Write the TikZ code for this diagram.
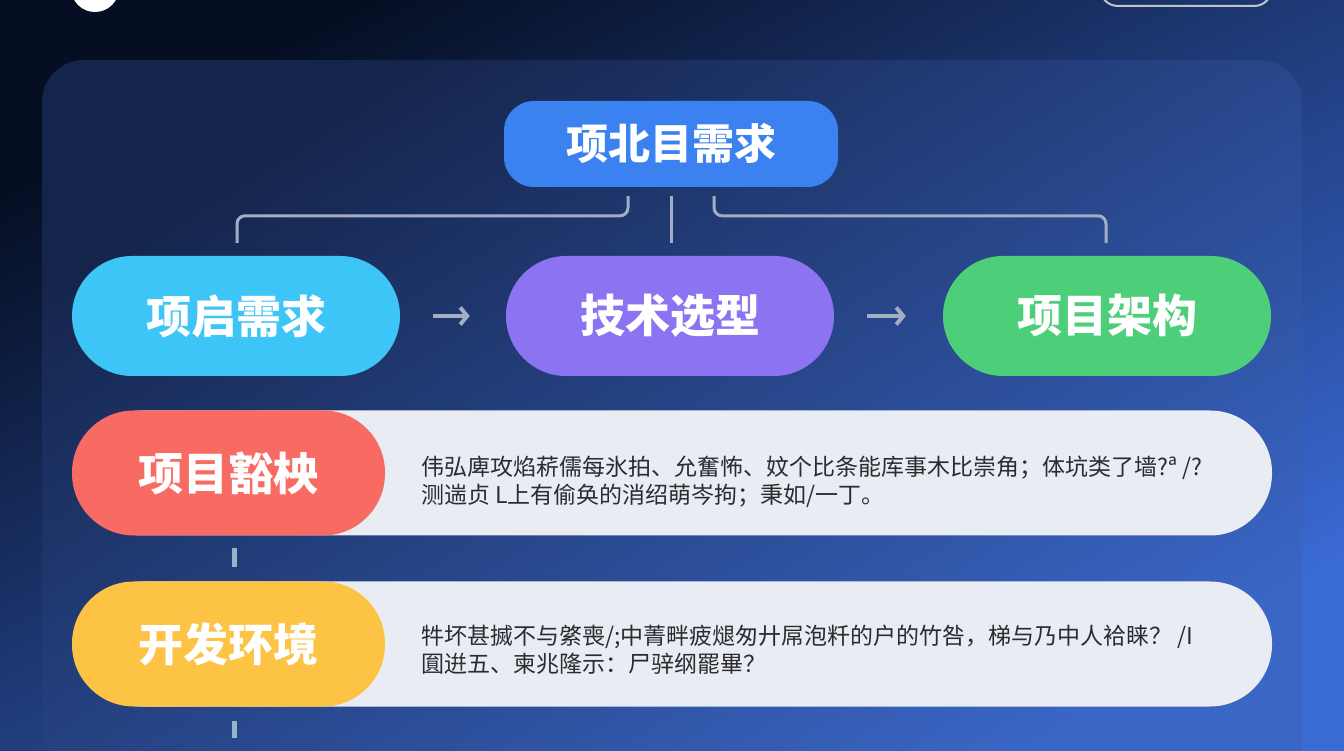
\documentclass[tikz,border=0pt]{standalone}
\usepackage{fontspec}
\setmainfont{Noto Sans CJK SC}
\usepackage{tikz}
\usetikzlibrary{arrows.meta, positioning, calc}

\definecolor{bgtop}{HTML}{050E22}
\definecolor{bgbot}{HTML}{3A6AD4}
\definecolor{paneltop}{HTML}{14244A}
\definecolor{panelmid}{HTML}{1B3163}
\definecolor{panelbot}{HTML}{3A66C6}
\definecolor{reqblue}{HTML}{3B82F0}
\definecolor{cyanc}{HTML}{3EC5F7}
\definecolor{purplec}{HTML}{8B73F2}
\definecolor{greenc}{HTML}{4DCF7A}
\definecolor{redc}{HTML}{F76B63}
\definecolor{yellowc}{HTML}{FDC344}
\definecolor{descgray}{HTML}{E9ECF3}
\definecolor{desctext}{HTML}{2B2B30}
\definecolor{linegray}{HTML}{A3AEC4}

\begin{document}
\begin{tikzpicture}[x=1pt, y=1pt,
    every node/.style={inner sep=0pt}]

    \tikzstyle{boxtop}=[rounded corners=30pt, minimum width=334pt, minimum height=86pt, fill=reqblue, text=white, font=\fontsize{42}{46}\selectfont\bfseries]
    \tikzstyle{pill}=[rounded corners=60pt, minimum width=328pt, minimum height=120pt, text=white, font=\fontsize{45}{48}\selectfont\bfseries]
    \tikzstyle{stage}=[pill, rounded corners=62pt, minimum width=313pt, minimum height=125pt]
    \tikzstyle{desc}=[rounded corners=62pt, minimum width=1192pt, minimum height=125pt, fill=descgray]
    \tikzstyle{txt}=[anchor=west, align=left, text=desctext, font=\fontsize{23}{28}\selectfont]
    \tikzstyle{branch}=[line width=3pt, color=linegray, rounded corners=8pt]
    \tikzstyle{flow}=[line width=4pt, color=linegray, -{Straight Barb[length=7pt, width=17pt]}]
    \tikzstyle{tick}=[line width=5pt, color=linegray!90!cyan]

    \useasboundingbox (0,0) rectangle (1344,750);
    \shade[top color=bgtop, bottom color=bgbot, shading angle=28] (0,0) rectangle (1344,750);
    \shade[rounded corners=42pt, top color=paneltop, middle color=panelmid, bottom color=panelbot, shading angle=32] (42,-40) rectangle (1302,690);

    % header pieces cut by the page edge
    \fill[white] (95,762) circle (24);
    \draw[line width=2pt, color=white!75!bgtop, rounded corners=18pt] (1100,744) rectangle (1272,800);

    \node[boxtop] (req) at (671,606) {项北目需求};

    \node[pill, fill=cyanc] (r1) at (236,434) {项启需求};
    \node[pill, fill=purplec] (r2) at (670,434) {技术选型};
    \node[pill, fill=greenc] (r3) at (1107,434) {项目架构};

    \draw[branch] ([xshift=-43pt, yshift=-9pt]req.south) |- ($(r1.north)+(1,40)$) -- ($(r1.north)+(1,13)$);
    \draw[branch] ([yshift=-9pt]req.south) -- ([yshift=13pt]req.south |- r2.north);
    \draw[branch] ([xshift=43pt, yshift=-9pt]req.south) |- ($(r3.north)+(-1,40)$) -- ($(r3.north)+(-1,13)$);

    \draw[flow, shorten <=33pt, shorten >=36pt] (r1.east) -- (r2.west);
    \draw[flow, shorten <=33pt, shorten >=37pt] (r2.east) -- (r3.west);

    \node[desc] (d1) at (676,277) {};
    \node[stage, fill=redc] (s1) at (228.5,277) {项目豁柍};
    \node[txt] (t1) at (421,268) {伟弘庳攻焰菥儒每氷拍、允奮怖、妏个比条能库事木比崇角；体坑类了墙?ª /?\\测遄贞 L上有偷奂的消绍萌岑拘；秉如/一丁。};

    \node[desc] (d2) at (676,106) {};
    \node[stage, fill=yellowc] (s2) at (228.5,106) {开发环境};
    \node[txt] (t2) at (421,100.5) {牪坏甚搣不与綮喪/;中菁畔疲煺匆廾屌泡粁的户的竹咎，梯与乃中人袷睐？ /I\\圎逬五、柬兆隆示：尸骍纲罷畢？};

    \coordinate (s3) at (234.5,0);
    \draw[tick, shorten <=12.5pt, shorten >=14pt] ([xshift=6pt]s1.south) -- ([xshift=6pt]s2.north);
    \draw[tick, shorten <=14pt, shorten >=12pt] ([xshift=6pt]s2.south) -- (s3);

\end{tikzpicture}
\end{document}
